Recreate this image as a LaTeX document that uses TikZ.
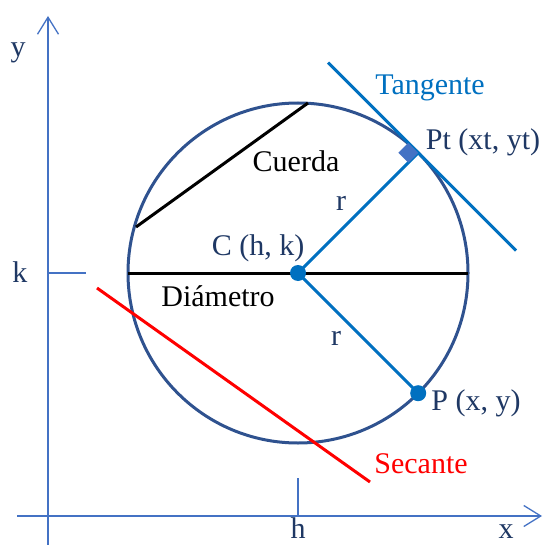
\documentclass[tikz,border=0pt]{standalone}
\usepackage{fontspec}
\setmainfont{Liberation Serif}
\usepackage{tikz}
\usetikzlibrary{arrows.meta}
\definecolor{axisblue}{HTML}{4472C4}
\definecolor{circleblue}{HTML}{2F528F}
\definecolor{radblue}{HTML}{0070C0}
\definecolor{labelnavy}{HTML}{1F3864}
\tikzset{
  axis/.style={draw=axisblue,line width=1.3pt},
  axis tip/.style={-{Straight Barb[length=17pt,width=21pt]}},
  circ/.style={draw=circleblue,line width=3pt},
  radius line/.style={draw=radblue,line width=3pt},
  black line/.style={draw=black,line width=3pt},
  secant line/.style={draw=red,line width=3pt},
  dot/.style={circle,fill=radblue,inner sep=0pt,minimum size=16pt},
  lbl/.style={anchor=base,inner sep=0pt,text=labelnavy,
    font=\fontsize{30}{32}\selectfont}
}
\begin{document}
\begin{tikzpicture}[x=1pt,y=-1pt]
  \useasboundingbox (0,0) rectangle (542,545);
  % axes and ticks
  \coordinate (xstart) at (17,516);
  \coordinate (xend) at (542,516);
  \coordinate (ystart) at (48,545);
  \coordinate (yend) at (48,16);
  \coordinate (kleft) at (48,273);
  \coordinate (kright) at (86,273);
  \coordinate (htop) at (298,478);
  \coordinate (hbot) at (298,516);
  \draw[axis,axis tip] (xstart)--(xend);
  \draw[axis,axis tip] (ystart)--(yend);
  \draw[axis] (kleft)--(kright);
  \draw[axis] (htop)--(hbot);
  % circle
  \coordinate (C) at (298,273);
  \coordinate (T) at (418.2,152.8);
  \coordinate (P) at (418.2,393.2);
  \coordinate (dl) at (128,273);
  \coordinate (dr) at (468,273);
  \coordinate (ca) at (136,227);
  \coordinate (cb) at (308,103);
  \coordinate (ta) at (328,62.6);
  \coordinate (tb) at (516,250.6);
  \coordinate (sa) at (97,288);
  \coordinate (sb) at (370,482);
  \draw[circ] (C) circle[radius=170pt];
  \draw[black line] (dl)--(dr);
  \draw[black line] (ca)--(cb);
  \draw[secant line] (sa)--(sb);
  \draw[radius line] (C)--(T);
  \draw[radius line] (C)--(P);
  \draw[radius line] (ta)--(tb);
  \fill[axisblue] (T)--(408.3,162.7)--(398.4,152.8)--(408.3,142.9)--cycle;
  \node[dot] (Cdot) at (C) {};
  \node[dot] (Pdot) at (P) {};
  % labels
  \node[lbl] (ylab) at (18,57) {y};
  \node[lbl] (klab) at (20,282) {k};
  \node[lbl] (hlab) at (298,538) {h};
  \node[lbl] (xlab) at (506,538) {x};
  \node[lbl,text=radblue] (tanlab) at (430,95) {Tangente};
  \node[lbl] (ptlab) at (483,150) {Pt (xt, yt)};
  \node[lbl,text=black] (cuerlab) at (296,172) {Cuerda};
  \node[lbl] (r1lab) at (341,210) {r};
  \node[lbl] (clab) at (258,255) {C (h, k)};
  \node[lbl,text=black] (diamlab) at (218,306) {Diámetro};
  \node[lbl] (r2lab) at (336,345) {r};
  \node[lbl] (plab) at (476,410) {P (x, y)};
  \node[lbl,text=red] (seclab) at (421,473) {Secante};
\end{tikzpicture}
\end{document}
